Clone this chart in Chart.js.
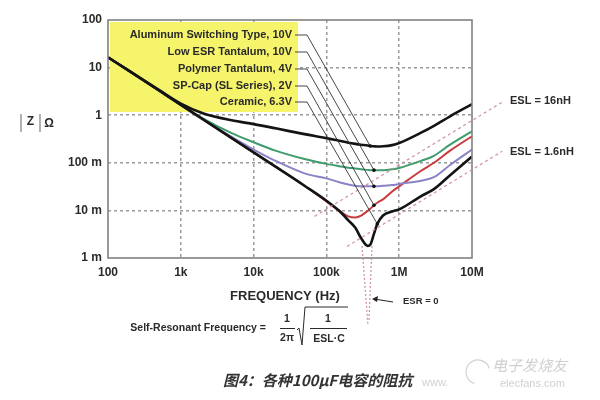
<!DOCTYPE html>
<html><head><meta charset="utf-8">
<script src="https://cdn.jsdelivr.net/npm/chart.js@4"></script>
<style>html,body{margin:0;padding:0;background:#fff}</style>
</head><body>
<canvas id="c" width="600" height="400"></canvas>
<script>
// ---- data ----
const freqHz = [100, 200, 500, 1e3, 2e3, 5e3, 1e4, 2e4, 5e4, 1e5, 1.5e5, 2e5, 2.5e5, 3e5, 3.7e5, 4e5, 4.5e5, 5e5, 6e5, 8e5, 1e6, 2e6, 3e6, 5e6, 1e7];
const aluminumZ = [16.5, 8.3, 3.4, 1.75, 1.1, 0.78, 0.65, 0.53, 0.40, 0.33, 0.29, 0.265, 0.25, 0.24, 0.23, 0.225, 0.222, 0.22, 0.222, 0.235, 0.26, 0.43, 0.6, 0.95, 1.7];
const lowEsrTantalumZ = [16.5, 8.3, 3.3, 1.66, 0.86, 0.42, 0.27, 0.18, 0.12, 0.095, 0.085, 0.079, 0.076, 0.073, 0.071, 0.070, 0.070, 0.070, 0.070, 0.073, 0.078, 0.11, 0.14, 0.24, 0.46];
const polymerTantalumZ = [16.5, 8.3, 3.3, 1.65, 0.83, 0.35, 0.19, 0.11, 0.06, 0.047, 0.039, 0.035, 0.033, 0.032, 0.032, 0.032, 0.032, 0.032, 0.033, 0.034, 0.036, 0.042, 0.05, 0.09, 0.19];
const spCapZ = [16.5, 8.3, 3.3, 1.65, 0.83, 0.33, 0.165, 0.083, 0.033, 0.0155, 0.0098, 0.0075, 0.0071, 0.0078, 0.0098, 0.0108, 0.0128, 0.0145, 0.017, 0.025, 0.032, 0.068, 0.1, 0.18, 0.36];
const ceramicZ = [16.5, 8.3, 3.3, 1.65, 0.83, 0.33, 0.165, 0.083, 0.033, 0.016, 0.0098, 0.0062, 0.0043, 0.0026, 0.0018, 0.0019, 0.0032, 0.0052, 0.0078, 0.0095, 0.0105, 0.02, 0.028, 0.055, 0.135];
const seriesNames = ['Aluminum Switching Type, 10V', 'Low ESR Tantalum, 10V', 'Polymer Tantalum, 4V', 'SP-Cap (SL Series), 2V', 'Ceramic, 6.3V'];
const leaderFreq = [4e5, 4.5e5, 4.5e5, 4.5e5, 5e5];
const xTickValues = [1e2, 1e3, 1e4, 1e5, 1e6, 1e7];
const xTickLabels = ['100', '1k', '10k', '100k', '1M', '10M'];
const yTickValues = [1e-3, 1e-2, 1e-1, 1, 10, 100];
const yTickLabels = ['1 m', '10 m', '100 m', '1', '10', '100'];
const esl16Line = [[6.9e4, 0.0075], [2.6e7, 1.88]];
const esl1p6Line = [[1.92e5, 0.00175], [2.6e7, 0.175]];
const eslLabels = ['ESL = 16nH', 'ESL = 1.6nH'];

const toPts = arr => freqHz.map((f, i) => ({x: f, y: arr[i]}));
const seriesValues = [aluminumZ, lowEsrTantalumZ, polymerTantalumZ, spCapZ, ceramicZ];
const seriesColors = ['#141414', '#3f9c6c', '#8884c6', '#c93a3c', '#141414'];
const seriesWidths = [2.6, 2, 2, 2, 2.6];
const seriesOrder = [0, 2, 3, 4, 1];

const FONT = '"Liberation Sans", Arial, sans-serif';

const deco = {
  id: 'deco',
  beforeDatasetsDraw(chart) {
    const ctx = chart.ctx;
    ctx.save();
    ctx.fillStyle = '#f6f46a';
    ctx.fillRect(110, 22, 188, 90);
    ctx.restore();
  },
  afterDatasetsDraw(chart) {
    const ctx = chart.ctx;
    const xs = chart.scales.x, ys = chart.scales.y;
    const a = chart.chartArea;
    ctx.save();
    // frame
    ctx.strokeStyle = '#808080';
    ctx.lineWidth = 1.6;
    ctx.strokeRect(a.left, a.top, a.right - a.left, a.bottom - a.top);

    // ESL asymptote lines
    ctx.setLineDash([3, 3]);
    ctx.strokeStyle = 'rgba(205,140,150,0.9)';
    ctx.lineWidth = 1.3;
    [esl16Line, esl1p6Line].forEach(l => {
      ctx.beginPath();
      ctx.moveTo(xs.getPixelForValue(l[0][0]), ys.getPixelForValue(l[0][1]));
      ctx.lineTo(xs.getPixelForValue(l[1][0]), ys.getPixelForValue(l[1][1]));
      ctx.stroke();
    });
    // ESR = 0 dotted lines
    ctx.setLineDash([2, 2]);
    ctx.beginPath(); ctx.moveTo(362, 246); ctx.lineTo(368, 326); ctx.stroke();
    ctx.beginPath(); ctx.moveTo(372, 246); ctx.lineTo(369, 320); ctx.stroke();
    ctx.setLineDash([]);

    // labels + leaders
    ctx.font = 'bold 11px ' + FONT;
    ctx.textAlign = 'right';
    ctx.textBaseline = 'middle';
    const labelY = [35, 52, 69, 86, 102];
    seriesNames.forEach((n, i) => {
      ctx.fillStyle = '#2a2a2a';
      ctx.fillText(n, 292, labelY[i]);
      const idx = freqHz.indexOf(leaderFreq[i]);
      const p = chart.getDatasetMeta(i).data[idx];
      ctx.strokeStyle = '#333';
      ctx.lineWidth = 0.9;
      ctx.beginPath();
      ctx.moveTo(295, labelY[i]);
      ctx.lineTo(307, labelY[i]);
      ctx.lineTo(p.x, p.y);
      ctx.stroke();
      ctx.fillStyle = '#111';
      ctx.beginPath(); ctx.arc(p.x, p.y, 1.8, 0, Math.PI * 2); ctx.fill();
    });

    // ESL labels
    ctx.textAlign = 'left';
    ctx.fillStyle = '#2a2a2a';
    ctx.font = 'bold 11px ' + FONT;
    ctx.fillText(eslLabels[0], 510, 101);
    ctx.fillText(eslLabels[1], 510, 152);

    // ESR = 0 with arrow
    ctx.font = 'bold 9.5px ' + FONT;
    ctx.fillText('ESR = 0', 403, 301);
    ctx.strokeStyle = '#222'; ctx.lineWidth = 1;
    ctx.beginPath(); ctx.moveTo(393, 302); ctx.lineTo(374, 299); ctx.stroke();
    ctx.beginPath(); ctx.moveTo(372, 299); ctx.lineTo(378, 296); ctx.lineTo(377, 302); ctx.closePath();
    ctx.fillStyle = '#222'; ctx.fill();

    // axis titles
    ctx.fillStyle = '#2a2a2a';
    ctx.font = 'bold 13px ' + FONT;
    ctx.textAlign = 'center';
    ctx.fillText('FREQUENCY (Hz)', 285, 296);
    // |Z| Ω
    ctx.strokeStyle = '#888'; ctx.lineWidth = 1.3;
    ctx.beginPath(); ctx.moveTo(21, 114); ctx.lineTo(21, 132); ctx.stroke();
    ctx.beginPath(); ctx.moveTo(40, 114); ctx.lineTo(40, 132); ctx.stroke();
    ctx.font = 'bold 12px ' + FONT;
    ctx.fillText('Z', 30.5, 122);
    ctx.fillText('Ω', 49, 124);

    // formula
    ctx.font = 'bold 10.5px ' + FONT;
    ctx.textAlign = 'right';
    ctx.fillText('Self-Resonant Frequency =', 266, 328);
    ctx.textAlign = 'center';
    ctx.fillText('1', 287, 319);
    ctx.fillText('2π', 287, 338);
    ctx.lineWidth = 1; ctx.strokeStyle = '#2a2a2a';
    ctx.beginPath(); ctx.moveTo(280, 328.5); ctx.lineTo(295, 328.5); ctx.stroke();
    ctx.beginPath(); ctx.moveTo(297, 330); ctx.lineTo(299, 328); ctx.lineTo(302, 345); ctx.lineTo(305, 307); ctx.lineTo(348, 307); ctx.stroke();
    ctx.fillText('1', 328, 319);
    ctx.beginPath(); ctx.moveTo(310, 328.5); ctx.lineTo(347, 328.5); ctx.stroke();
    ctx.fillText('ESL·C', 329, 339);

    // caption
    ctx.font = 'italic bold 15px "Noto Sans CJK SC", sans-serif';
    ctx.textAlign = 'left';
    ctx.fillStyle = '#333';
    ctx.fillText('图4：各种100μF电容的阻抗', 223, 380);

    // watermark
    ctx.fillStyle = 'rgba(170,170,170,0.55)';
    ctx.font = '11px ' + FONT;
    ctx.fillText('www.', 422, 383);
    ctx.fillText('elecfans.com', 500, 384);
    ctx.font = 'italic 15px "Noto Sans CJK SC", sans-serif';
    ctx.fillText('电子发烧友', 492, 365);
    ctx.strokeStyle = 'rgba(170,170,170,0.55)';
    ctx.lineWidth = 1.2;
    ctx.beginPath(); ctx.arc(478, 372, 12, Math.PI * 0.6, Math.PI * 1.9); ctx.stroke();
    ctx.restore();
  }
};

const edgeTransparent = (vals) => (c) => {
  const v = c.tick && c.tick.value;
  return (v === vals[0] || v === vals[vals.length - 1]) ? 'rgba(0,0,0,0)' : '#9a9a9a';
};

new Chart(document.getElementById('c'), {
  type: 'line',
  data: {
    datasets: seriesValues.map((arr, i) => ({
      label: seriesNames[i],
      data: toPts(arr),
      borderColor: seriesColors[i],
      borderWidth: seriesWidths[i],
      pointRadius: 0,
      cubicInterpolationMode: 'monotone',
      order: seriesOrder[i],
      fill: false
    }))
  },
  options: {
    responsive: false,
    animation: false,
    events: [],
    layout: {padding: {left: 0, right: 128, top: 20, bottom: 0}},
    plugins: {legend: {display: false}, tooltip: {enabled: false}},
    scales: {
      x: {
        type: 'logarithmic', min: 100, max: 1e7,
        afterBuildTicks: s => { s.ticks = xTickValues.map(v => ({value: v})); },
        afterFit: s => { s.height = 142; },
        ticks: {
          callback: (v, i) => xTickLabels[i],
          autoSkip: false, maxRotation: 0, padding: 7,
          color: '#2a2a2a', font: {family: FONT, size: 12, weight: 'bold'}
        },
        grid: {color: edgeTransparent(xTickValues), lineWidth: 1.5, drawTicks: false},
        border: {display: false, dash: [3, 3]}
      },
      y: {
        type: 'logarithmic', min: 1e-3, max: 100,
        afterBuildTicks: s => { s.ticks = yTickValues.map(v => ({value: v})); },
        afterFit: s => { s.width = 108; },
        ticks: {
          callback: (v, i) => yTickLabels[i],
          autoSkip: false, padding: 6,
          color: '#2a2a2a', font: {family: FONT, size: 12, weight: 'bold'}
        },
        grid: {color: edgeTransparent(yTickValues), lineWidth: 1.5, drawTicks: false},
        border: {display: false, dash: [3, 3]}
      }
    }
  },
  plugins: [deco]
});
</script>
</body></html>
